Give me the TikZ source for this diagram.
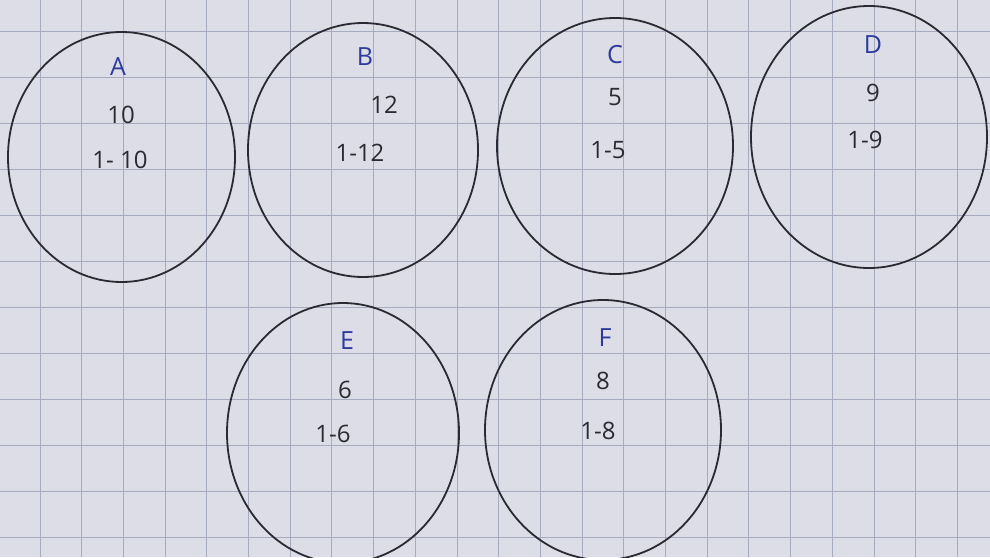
\documentclass[tikz,border=0pt]{standalone}
\usepackage{fontspec}
\setmainfont{Open Sans}
\usetikzlibrary{shapes.geometric}
\definecolor{paper}{HTML}{DCDDE6}
\definecolor{gridline}{HTML}{A7ABC0}
\definecolor{inkblue}{HTML}{2B3A9C}
\definecolor{inkdark}{HTML}{2A2A32}
\tikzset{
  ring/.style={draw=inkdark, line width=1.8pt, ellipse, inner sep=0pt},
  letter/.style={text=inkblue, font=\fontsize{25}{25}\selectfont, inner sep=0pt},
  num/.style={text=inkdark, font=\fontsize{24}{24}\selectfont, inner sep=0pt},
  gridl/.style={draw=gridline, line width=1pt}
}
\begin{document}
\begin{tikzpicture}[x=1pt,y=-1pt]
  \fill[paper] (0,0) rectangle (990,557);
  \useasboundingbox (0,0) rectangle (990,557);
  % grid
  \foreach \i in {0,...,23} {
    \draw[gridl] ({-1.7+41.7*\i},0) -- ({-1.7+41.7*\i},557);
  }
  \foreach \j in {0,...,12} {
    \draw[gridl] (0,{-15+46*\j}) -- (990,{-15+46*\j});
  }
  % circles
  \node[ring, minimum width=227pt, minimum height=250pt] (cA) at (121.5,157) {};
  \node[ring, minimum width=230pt, minimum height=254pt] (cB) at (363,150) {};
  \node[ring, minimum width=236pt, minimum height=256pt] (cC) at (615,146) {};
  \node[ring, minimum width=236pt, minimum height=262pt] (cD) at (869,137) {};
  \node[ring, minimum width=232pt, minimum height=260pt] (cE) at (343,433) {};
  \node[ring, minimum width=236pt, minimum height=260pt] (cF) at (603,430) {};
  % labels
  \node[letter] (lA) at (118,67) {A};
  \node[num] (nA) at (121,115) {10};
  \node[num] (rA) at (120,160) {1- 10};
  \node[letter] (lB) at (365,57) {B};
  \node[num] (nB) at (384,105) {12};
  \node[num] (rB) at (360,153) {1-12};
  \node[letter] (lC) at (615,55) {C};
  \node[num] (nC) at (615,97) {5};
  \node[num] (rC) at (608,150) {1-5};
  \node[letter] (lD) at (873,45) {D};
  \node[num] (nD) at (873,93) {9};
  \node[num] (rD) at (865,140) {1-9};
  \node[letter] (lE) at (347,341) {E};
  \node[num] (nE) at (345,390) {6};
  \node[num] (rE) at (333,434) {1-6};
  \node[letter] (lF) at (605,338) {F};
  \node[num] (nF) at (603,381) {8};
  \node[num] (rF) at (598,431) {1-8};
\end{tikzpicture}
\end{document}
